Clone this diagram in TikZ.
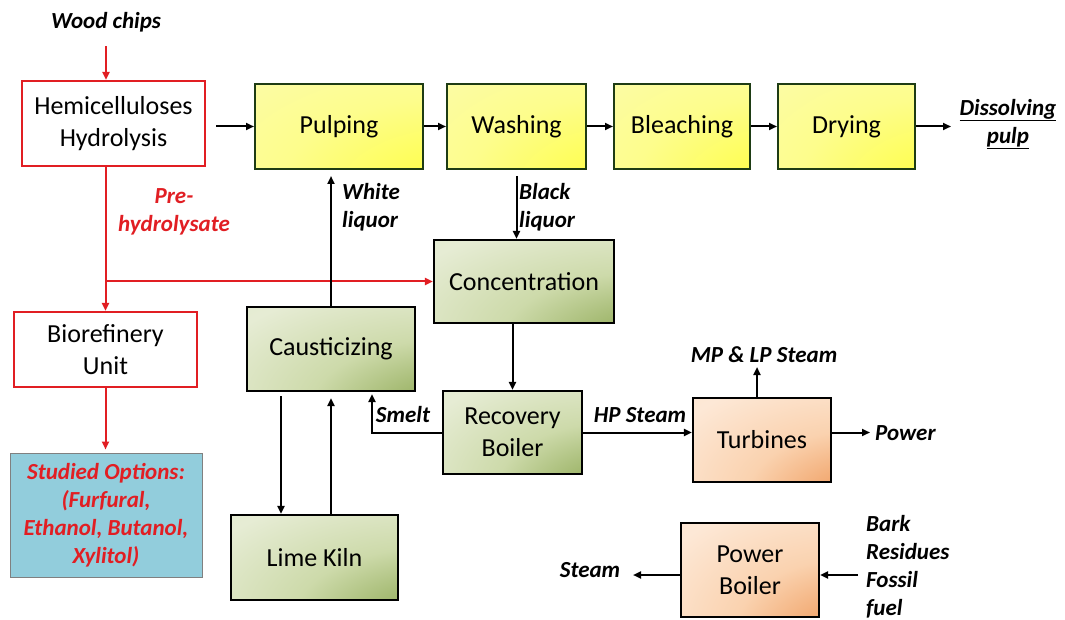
\documentclass[tikz,border=0pt]{standalone}
\usepackage{fontspec}
\setmainfont{Carlito}
\usetikzlibrary{arrows.meta}
\definecolor{myred}{RGB}{225,30,35}
\definecolor{bluebox}{RGB}{146,205,220}
\definecolor{ygborder}{RGB}{30,60,20}
\definecolor{ydark}{RGB}{255,255,30}
\definecolor{ymid}{RGB}{253,253,140}
\definecolor{ylight}{RGB}{250,250,215}
\definecolor{gdark}{RGB}{100,130,40}
\definecolor{gmidd}{RGB}{150,175,95}
\definecolor{gmid}{RGB}{205,218,170}
\definecolor{glight}{RGB}{230,236,212}
\definecolor{gedge}{RGB}{212,224,188}
\definecolor{odark}{RGB}{228,108,10}
\definecolor{omidd}{RGB}{240,160,100}
\definecolor{omid}{RGB}{250,210,175}
\definecolor{olight}{RGB}{253,232,214}
\definecolor{oedge}{RGB}{250,218,190}
\pgfdeclareradialshading{yellowsh}{\pgfpoint{50bp}{-50bp}}{color(0bp)=(ydark); color(50bp)=(ymid); color(120bp)=(ylight); color(150bp)=(ylight)}
\pgfdeclareradialshading{greensh}{\pgfpoint{48bp}{-48bp}}{color(0bp)=(gdark); color(18bp)=(gmidd); color(40bp)=(gmid); color(65bp)=(glight); color(140bp)=(gedge)}
\pgfdeclareradialshading{orangesh}{\pgfpoint{48bp}{-48bp}}{color(0bp)=(odark); color(18bp)=(omidd); color(40bp)=(omid); color(65bp)=(olight); color(140bp)=(oedge)}
\tikzset{
  boxtext/.style={font=\fontsize{26}{32}\selectfont, align=center, inner sep=0pt, text=black},
  redbox/.style={boxtext, draw=myred, line width=2.2pt, fill=white},
  ybox/.style={boxtext, draw=ygborder, line width=2pt, shading=yellowsh},
  gbox/.style={boxtext, draw=black, line width=2.2pt, shading=greensh},
  obox/.style={boxtext, draw=black, line width=2.2pt, shading=orangesh},
  lbl/.style={font=\fontsize{23}{28}\selectfont\bfseries\itshape, inner sep=0pt},
  arr/.style={-{Triangle[length=8pt,width=7pt]}, line width=2pt, draw=black},
  rarr/.style={arr, draw=myred, -{Triangle[length=8pt,width=7pt,fill=myred]}},
}
\begin{document}
\begin{tikzpicture}[x=1pt,y=-1pt]
\useasboundingbox (0,0) rectangle (1065,620);
\fill[white] (0,0) rectangle (1065,620);

% boxes
\node[redbox, minimum width=183pt, minimum height=85pt] (hemi) at (113.5,123.5) {Hemicelluloses\\Hydrolysis};
\node[ybox, minimum width=168pt, minimum height=85pt] (pulp) at (339,126.5) {Pulping};
\node[ybox, minimum width=139pt, minimum height=85pt] (wash) at (516.5,126.5) {Washing};
\node[ybox, minimum width=136pt, minimum height=85pt] (bleach) at (682,126.5) {Bleaching};
\node[ybox, minimum width=137pt, minimum height=85pt] (dry) at (846.5,126.5) {Drying};
\node[gbox, minimum width=180pt, minimum height=83pt] (conc) at (524,281.5) {Concentration};
\node[redbox, minimum width=183pt, minimum height=75pt] (bio) at (105.5,349.5) {Biorefinery\\Unit};
\node[draw=gray, line width=1pt, fill=bluebox, minimum width=192pt, minimum height=124pt, inner sep=0pt,
      align=center, text=myred, font=\fontsize{23}{28}\selectfont\bfseries\itshape] (study) at (106,515)
      {Studied Options:\\(Furfural,\\Ethanol, Butanol,\\Xylitol)};
\node[gbox, minimum width=168pt, minimum height=84pt] (caus) at (331,349) {Causticizing};
\node[gbox, minimum width=167pt, minimum height=85pt] (lime) at (314.5,557.5) {Lime Kiln};
\node[gbox, minimum width=139pt, minimum height=83pt] (recov) at (512.5,432.5) {Recovery\\Boiler};
\node[obox, minimum width=138pt, minimum height=84pt] (turb) at (762,440) {Turbines};
\node[obox, minimum width=138pt, minimum height=94pt] (pboil) at (750,570) {Power\\Boiler};

% labels
\node[lbl] (wood) at (106,22) {Wood chips};
\node[lbl, align=center] (diss) at (1008,124) {\underline{Dissolving}\\\underline{pulp}};
\node[lbl, align=center, text=myred] (pre) at (174,212) {Pre-\\hydrolysate};
\node[lbl, align=left, anchor=west] (white) at (342,207) {White\\liquor};
\node[lbl, align=left, anchor=west] (black) at (519,207) {Black\\liquor};
\node[lbl] (smelt) at (403,415) {Smelt};
\node[lbl] (hp) at (640,415) {HP Steam};
\node[lbl] (mp) at (764,355) {MP \& LP Steam};
\node[lbl, anchor=west] (power) at (875,433) {Power};
\node[lbl] (steam) at (590,570) {Steam};
\node[lbl, align=left, anchor=west] (fuel) at (866,567) {Bark\\Residues\\Fossil\\fuel};

% free ends
\coordinate (drend) at (951,126.5);
\coordinate (mpend) at (757,367);
\coordinate (pwend) at (870,432.5);
\coordinate (stend) at (633,575);
\coordinate (bkstart) at (858,575);

% red connectors
\draw[rarr, shorten <=14pt] (wood.south) -- (wood.south |- hemi.north);
\draw[rarr] (bio.north |- hemi.south) -- (bio.north);
\draw[rarr] (bio.north |- conc.west) -- (conc.west);
\draw[rarr, shorten >=3pt] (bio.south) -- (bio.south |- study.north);

% black connectors
\draw[arr, shorten <=10pt] (hemi.east |- pulp.west) -- (pulp.west);
\draw[arr] (pulp.east) -- (wash.west);
\draw[arr] (wash.east) -- (bleach.west);
\draw[arr] (bleach.east) -- (dry.west);
\draw[arr] (dry.east) -- (drend);
\draw[arr, shorten <=6pt] (wash.south) -- (wash.south |- conc.north);
\draw[arr, shorten >=6pt] (caus.north) -- (caus.north |- pulp.south);
\draw[arr, shorten <=4pt] ([xshift=-50pt]caus.south) -- ([xshift=-50pt]caus.south |- lime.north);
\draw[arr, shorten >=6pt] (caus.south |- lime.north) -- (caus.south);
\draw[arr] (recov.north |- conc.south) -- (recov.north);
\draw[arr, shorten >=2pt] (recov.west) -| ([xshift=41pt]caus.south);
\draw[arr] (recov.east) -- (recov.east -| turb.west);
\draw[arr] (mpend |- turb.north) -- (mpend);
\draw[arr] (turb.east |- pwend) -- (pwend);
\draw[arr] (pboil.west |- stend) -- (stend);
\draw[arr] (bkstart) -- (bkstart -| pboil.east);
\end{tikzpicture}
\end{document}
